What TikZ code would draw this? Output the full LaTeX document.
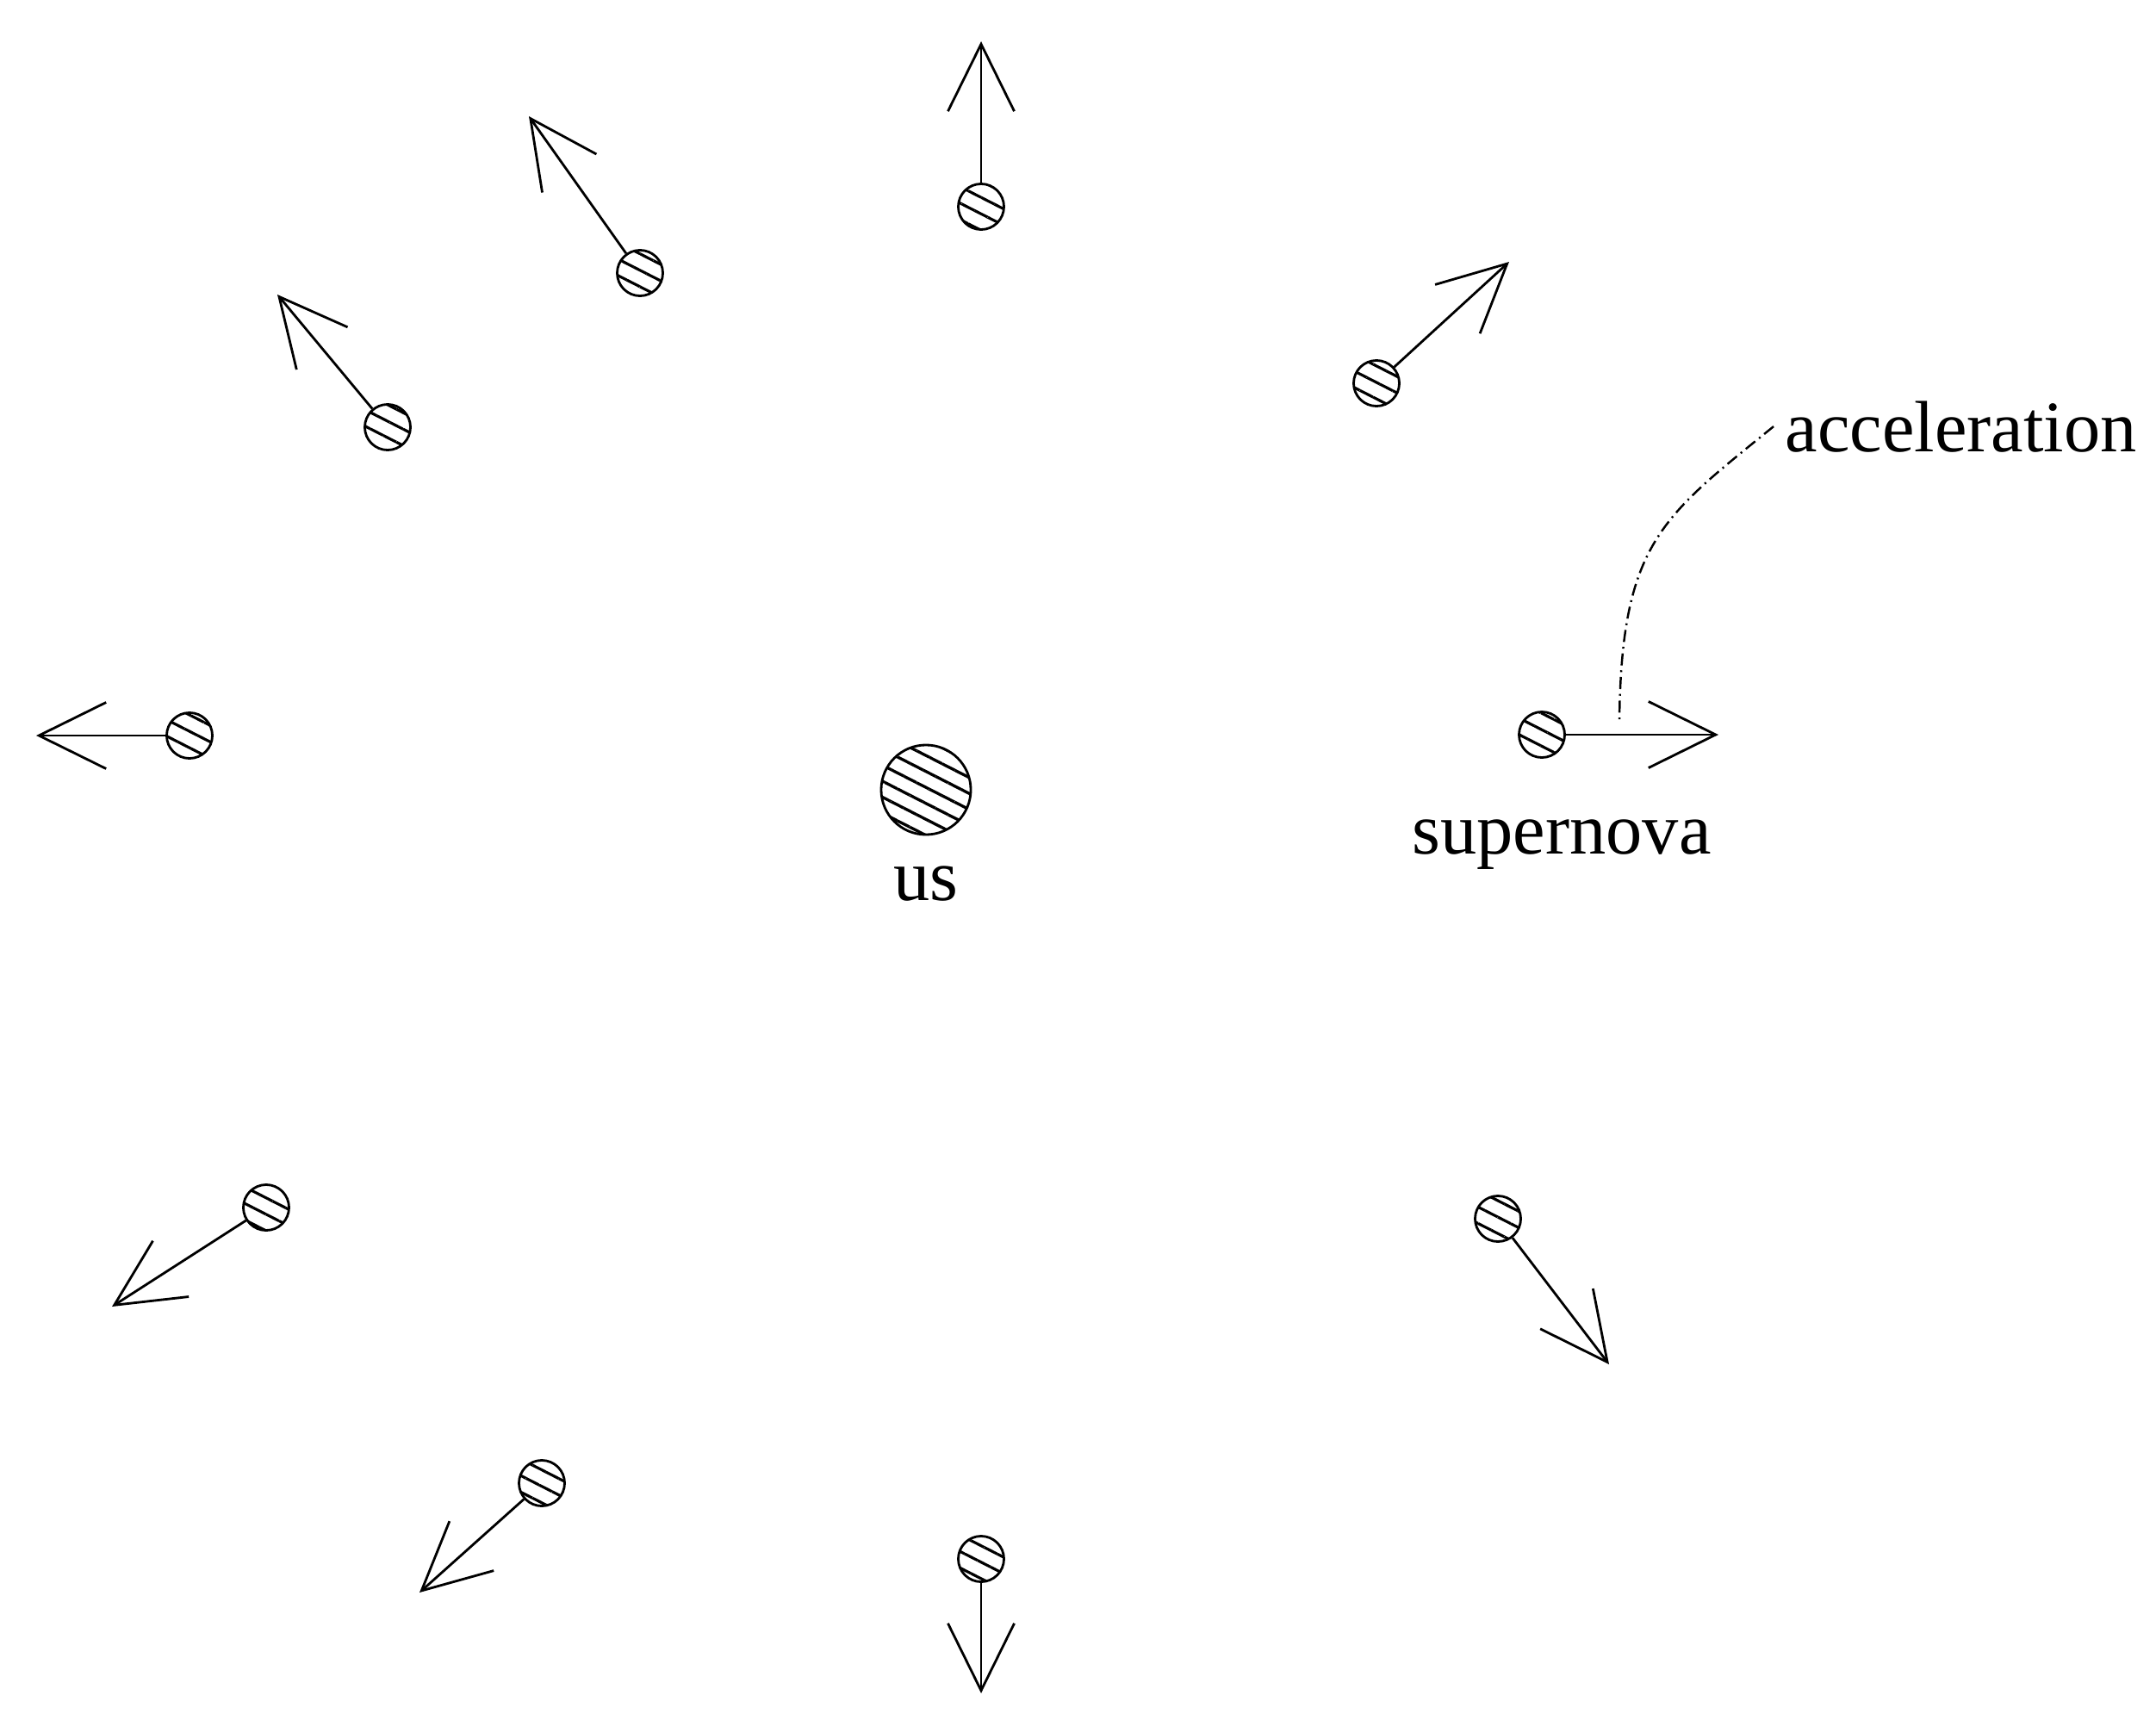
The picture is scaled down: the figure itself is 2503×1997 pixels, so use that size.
\documentclass[tikz,border=0pt]{standalone}
\usepackage{fontspec}
\setmainfont{Liberation Serif}
\usetikzlibrary{positioning,arrows.meta,patterns.meta}

\tikzset{
  ball/.style={circle,draw,line width=0.8pt,inner sep=0pt,minimum size=0.53cm,
    pattern={Lines[angle=-27,distance=0.17cm,line width=0.9pt]}},
  vel/.style={line width=0.8pt,-{Straight Barb[length=0.78cm,width=0.77cm]}},
  leader/.style={line width=0.7pt,dash pattern=on 4pt off 1.6pt on 0.6pt off 1.6pt},
}

\begin{document}
\begin{tikzpicture}[x=0.01cm,y=-0.01cm,font=\fontsize{24}{29}\selectfont]
        \useasboundingbox (0,0) rectangle (2503,1997);

        \node[ball,minimum size=1.04cm,
          pattern={Lines[angle=-27,distance=0.165cm,line width=0.95pt]}] at (1075,917) (us) {};
        \node[below = 0.23cm of us] (uslabel) {us};

        \node[ball] at (1139,240) (g1) {};
        \node[ball] at (743,317) (g2) {};
        \node[ball] at (450,496) (g3) {};
        \node[ball] at (220,854) (g4) {};
        \node[ball] at (309,1402) (g5) {};
        \node[ball] at (629,1722) (g6) {};
        \node[ball] at (1139,1810) (g7) {};
        \node[ball] at (1739,1415) (g8) {};
        \node[ball] at (1598,445) (g9) {};
        \node[ball] at (1790,853) (sn) {};
        \node[below = 0.58cm of sn, xshift=0.23cm] (snlabel) {supernova};

        \coordinate (t1) at (1139,48);
        \coordinate (t2) at (614,135);
        \coordinate (t3) at (322,342);
        \coordinate (t4) at (42,854);
        \coordinate (t5) at (130,1517);
        \coordinate (t6) at (487,1849);
        \coordinate (t7) at (1139,1966);
        \coordinate (t8) at (1868,1584);
        \coordinate (t9) at (1752,304);
        \coordinate (tsn) at (1995,853);

        \draw[vel] (g1) -- (t1);
        \draw[vel] (g2) -- (t2);
        \draw[vel] (g3) -- (t3);
        \draw[vel] (g4) -- (t4);
        \draw[vel] (g5) -- (t5);
        \draw[vel] (g6) -- (t6);
        \draw[vel] (g7) -- (t7);
        \draw[vel] (g8) -- (t8);
        \draw[vel] (g9) -- (t9);
        \draw[vel] (sn) -- (tsn);

        % label for the supernova's arrow
        \node[anchor=base west, inner sep=0.13cm] at (2059,524) (acc) {acceleration};
        \coordinate (accend) at (1880,838);
        \draw[leader] (acc.west) .. controls (1930,600) and (1882,630) .. (accend);
\end{tikzpicture}
\end{document}
